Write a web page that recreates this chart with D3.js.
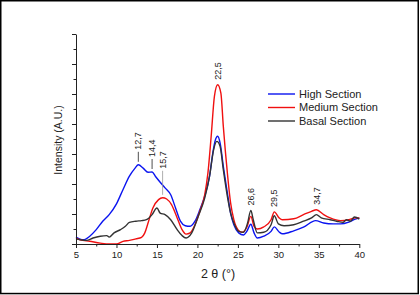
<!DOCTYPE html>
<html lang="en">
  <head>
    <meta charset="UTF-8" />
    <title>XRD – High / Medium / Basal Section</title>
    <script src="https://d3js.org/d3.v7.min.js"></script>
    <style>
      body {
        margin: 0;
        background: white;
      }
      svg {
        display: block;
        font-family: 'Liberation Sans', Arial, sans-serif;
      }
    </style>
  </head>
  <body>
    <svg width="420" height="295"></svg>

    <script>
      // 2θ (°) vs intensity (A.U.)
      const highSection = [
        [5, 0.23], [5.5, 0.16], [5.9, 0.14], [6.7, 0.26], [7.5, 0.48], [8.3, 0.76],
        [9.1, 0.98], [10, 1.34], [10.8, 1.81], [11.6, 2.26], [12.3, 2.53], [12.7, 2.64],
        [13.3, 2.53], [13.9, 2.39], [14.4, 2.4], [14.8, 2.26], [15.4, 2.06], [16, 1.87],
        [16.7, 1.64], [17.3, 1.2], [17.9, 0.76], [18.5, 0.61], [19.1, 0.59], [19.7, 0.76],
        [20.3, 1.14], [20.9, 1.59], [21.5, 2.26], [21.9, 3.03], [22.2, 3.45], [22.5, 3.59],
        [22.8, 3.37], [23.2, 2.59], [23.7, 1.7], [24.1, 1.03], [24.5, 0.64], [25.1, 0.37],
        [25.7, 0.3], [26.1, 0.42], [26.6, 0.66], [27, 0.37], [27.4, 0.2], [28.2, 0.26],
        [29.1, 0.42], [29.5, 0.57], [30.1, 0.4], [30.5, 0.34], [31.9, 0.44], [33.1, 0.56],
        [34.6, 0.78], [35.6, 0.7], [36.8, 0.67], [37.7, 0.67], [38.7, 0.73], [39.5, 0.83],
        [40, 0.87],
      ];
      const mediumSection = [
        [5, 0.2], [5.5, 0.14], [6.7, 0.09], [8, 0.03], [9.1, 0], [10, 0], [10.8, 0.09],
        [11.6, 0.12], [12.4, 0.17], [13.1, 0.22], [13.5, 0.37], [13.9, 0.7], [14.5, 1.2],
        [15.2, 1.48], [15.7, 1.54], [16.2, 1.5], [16.8, 1.31], [17.5, 0.87], [18.1, 0.48],
        [18.6, 0.33], [19.1, 0.37], [19.7, 0.64], [20.3, 1.09], [20.9, 1.64], [21.3, 2.37],
        [21.7, 3.59], [22.1, 4.92], [22.5, 5.31], [22.9, 5.03], [23.2, 3.92], [23.7, 2.37],
        [24.1, 1.37], [24.5, 0.81], [25, 0.48], [25.5, 0.39], [26.1, 0.56], [26.6, 0.92],
        [27, 0.59], [27.4, 0.5], [28.2, 0.57], [29.1, 0.81], [29.5, 1.07], [30.1, 0.87],
        [30.5, 0.81], [31.9, 0.84], [33.1, 0.98], [34.1, 1.09], [34.7, 1.14], [35.6, 0.98],
        [36.4, 0.87], [37.7, 0.78], [38.7, 0.81], [39.5, 0.87], [40, 0.87],
      ];
      const basalSection = [
        [5, 0.17], [6.3, 0.12], [7.1, 0.2], [8, 0.26], [8.8, 0.28], [9.1, 0.23], [9.7, 0.37],
        [10.5, 0.48], [11.1, 0.59], [11.6, 0.72], [12.4, 0.76], [13.1, 0.78], [13.7, 0.81],
        [14.4, 0.98], [15, 1.2], [15.4, 1.03], [16, 0.98], [16.7, 0.81], [17.5, 0.48],
        [18.1, 0.28], [18.6, 0.2], [19.3, 0.37], [20.1, 0.92], [20.9, 1.53], [21.5, 2.26],
        [22, 3.14], [22.4, 3.42], [22.8, 3.26], [23.2, 2.48], [23.7, 1.59], [24.1, 1.03],
        [24.5, 0.7], [25.1, 0.42], [25.7, 0.39], [26.2, 0.7], [26.6, 1.12], [26.9, 0.81],
        [27.4, 0.37], [28.2, 0.39], [29.1, 0.64], [29.5, 0.94], [30, 0.67], [30.7, 0.61],
        [31.9, 0.64], [33.1, 0.76], [34.1, 0.87], [34.7, 0.98], [35.3, 0.87], [36.4, 0.81],
        [37.2, 0.76], [38, 0.72], [38.4, 0.81], [38.9, 0.76], [39.4, 0.9], [40, 0.83],
      ];

      const seriesNames = ['High Section', 'Medium Section', 'Basal Section'];
      const seriesColors = ['#0a14f0', '#f01010', '#333333'];
      const seriesData = [highSection, mediumSection, basalSection];

      // peak labels: angle, text, series index it sits on
      const peakAngles = [12.7, 14.4, 15.7, 22.5, 26.6, 29.5, 34.7];
      const peakTexts = ['12,7', '14,4', '15,7', '22,5', '26,6', '29,5', '34,7'];
      const peakSeries = [0, 0, 1, 1, 2, 1, 1];

      const xMajor = [5, 10, 15, 20, 25, 30, 35, 40];
      const xMinor = [7.5, 12.5, 17.5, 22.5, 27.5, 32.5, 37.5];
      const yMajor = [0, 1, 2, 3, 4, 5, 6, 7];
      const yMinor = [0.5, 1.5, 2.5, 3.5, 4.5, 5.5, 6.5];

      const svg = d3.select('svg');

      // outer frame
      svg
        .append('rect')
        .attr('x', 0.75)
        .attr('y', 0.75)
        .attr('width', 417.5)
        .attr('height', 292.8)
        .attr('fill', 'none')
        .attr('stroke', '#000')
        .attr('stroke-width', 1.5);

      const x = d3.scaleLinear().domain([5, 40]).range([76, 359.3]);
      const y = d3.scaleLinear().domain([0, 7]).range([244, 34]);

      const line = d3
        .line()
        .x((d) => x(d[0]))
        .y((d) => y(d[1]))
        .curve(d3.curveMonotoneX);

      // curves
      seriesData.forEach((data, i) => {
        svg
          .append('path')
          .datum(data)
          .attr('fill', 'none')
          .attr('stroke', seriesColors[i])
          .attr('stroke-width', 1.4)
          .attr('d', line);
      });

      // axes
      const xAxis = svg
        .append('g')
        .attr('transform', `translate(0,${y(0)})`)
        .call(d3.axisBottom(x).tickValues(xMajor).tickSize(4).tickSizeOuter(0).tickPadding(3));
      svg
        .append('g')
        .attr('transform', `translate(0,${y(0)})`)
        .call(d3.axisBottom(x).tickValues(xMinor).tickSize(2.5).tickFormat('').tickSizeOuter(0))
        .select('.domain')
        .remove();

      svg
        .append('g')
        .attr('transform', `translate(${x(5)},0)`)
        .call(d3.axisLeft(y).tickValues(yMajor).tickSize(4).tickFormat('').tickSizeOuter(0));
      svg
        .append('g')
        .attr('transform', `translate(${x(5)},0)`)
        .call(d3.axisLeft(y).tickValues(yMinor).tickSize(2.5).tickFormat('').tickSizeOuter(0))
        .select('.domain')
        .remove();

      svg.selectAll('.domain, .tick line').attr('stroke', '#222').attr('stroke-width', 1);
      xAxis
        .selectAll('text')
        .attr('font-family', "'Liberation Sans', Arial, sans-serif")
        .attr('font-size', 9.5)
        .attr('fill', '#222');

      // axis titles
      svg
        .append('text')
        .attr('transform', 'translate(62,140) rotate(-90)')
        .attr('text-anchor', 'middle')
        .attr('font-size', 10.5)
        .attr('fill', '#222')
        .text('Intensity (A.U.)');

      svg
        .append('text')
        .attr('x', 218)
        .attr('y', 278)
        .attr('text-anchor', 'middle')
        .attr('font-size', 12.5)
        .attr('fill', '#222')
        .text('2 θ (°)');

      // peak labels
      const leader = { '12,7': 10, '14,4': 10, '15,7': 24 };
      peakAngles.forEach((a, i) => {
        const s = seriesData[peakSeries[i]];
        const yv = d3.scaleLinear().domain(s.map((d) => d[0])).range(s.map((d) => d[1]))(a);
        const px = x(a);
        let py = y(yv) - 3;
        const len = leader[peakTexts[i]] || 0;
        if (len) {
          svg
            .append('line')
            .attr('x1', px)
            .attr('x2', px)
            .attr('y1', py)
            .attr('y2', py - len)
            .attr('stroke', peakTexts[i] === '15,7' ? '#999' : '#222')
            .attr('stroke-width', 0.8);
          py -= len + 2;
        } else {
          py -= 2;
        }
        svg
          .append('text')
          .attr('transform', `translate(${px},${py}) rotate(-90)`)
          .attr('dy', '0.35em')
          .attr('text-anchor', 'start')
          .attr('font-size', 9)
          .attr('fill', '#222')
          .text(peakTexts[i]);
      });

      // legend
      const legend = svg.append('g');
      seriesNames.forEach((name, i) => {
        const ly = 94 + i * 13.5;
        legend
          .append('line')
          .attr('x1', 268)
          .attr('x2', 295)
          .attr('y1', ly)
          .attr('y2', ly)
          .attr('stroke', seriesColors[i])
          .attr('stroke-width', 1.4);
        legend
          .append('text')
          .attr('x', 299)
          .attr('y', ly)
          .attr('dy', '0.35em')
          .attr('font-size', 11)
          .attr('fill', '#222')
          .text(name);
      });
    </script>
  </body>
</html>
